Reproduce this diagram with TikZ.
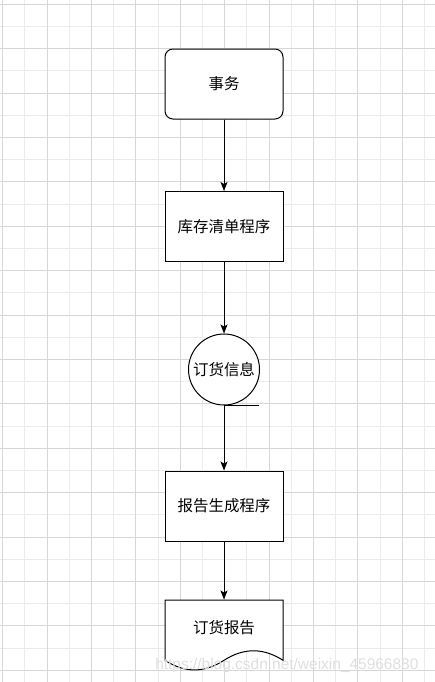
\documentclass[tikz,border=0pt]{standalone}
\usepackage{fontspec}
\newfontfamily\cjk{Noto Sans CJK SC}
\setsansfont{Liberation Sans}
\usetikzlibrary{arrows.meta}

\begin{document}
\begin{tikzpicture}[x=0.75pt, y=-0.75pt,
    flowbox/.style={draw, fill=white, line width=0.75pt, minimum width=88.5pt, minimum height=52.5pt, inner sep=0pt, font=\cjk\fontsize{11.6}{14}\selectfont},
    startbox/.style={flowbox, rounded corners=6pt},
    tapebox/.style={flowbox, circle, minimum size=53.25pt},
    docbox/.style={flowbox, draw=none, fill=none, minimum height=42pt},
    flow/.style={line width=0.75pt, -{Stealth[length=6.75pt, width=5.25pt, inset=1.5pt]}},
    gridmajor/.style={draw=black!16, line width=0.75pt},
    gridminor/.style={draw=black!8, line width=0.75pt}]
    \useasboundingbox (0,0) rectangle (435,682);

    % Draw the background grid
    \foreach \i in {1,3,...,19} \draw[gridminor] ({2.7+22.2*\i},0) -- ({2.7+22.2*\i},682);
    \foreach \j in {1,3,...,29} \draw[gridminor] (0,{4.3+22.2*\j}) -- (435,{4.3+22.2*\j});
    \foreach \i in {0,2,...,18} \draw[gridmajor] ({2.7+22.2*\i},0) -- ({2.7+22.2*\i},682);
    \foreach \j in {0,2,...,30} \draw[gridmajor] (0,{4.3+22.2*\j}) -- (435,{4.3+22.2*\j});

    % Draw the flow steps
    \node[startbox] (task) at (224, 84) {事务};
    \node[flowbox] (inventory) at (224, 226.5) {库存清单程序};
    \node[tapebox] (orderinfo) at (224, 369.5) {订货信息};
    \node[flowbox] (reportgen) at (224, 506) {报告生成程序};

    % Draw the document shape for the report
    \draw[line width=0.75pt, fill=white] (165,600) -- (283,600) -- (283,660.3)
        .. controls (263.3,647.6) and (243.7,647.6) .. (224,660.3)
        .. controls (204.3,673.1) and (184.7,673.1) .. (165,660.3) -- cycle;
    \node[docbox] (report) at (224, 628) {订货报告};

    % Tail of the sequential data store
    \draw[line width=0.75pt] (orderinfo.south) -- ++(35,0);

    % Draw all arrows
    \draw[flow] (task) -- (inventory);
    \draw[flow] (inventory) -- (orderinfo);
    \draw[flow] (orderinfo) -- (reportgen);
    \draw[flow] (reportgen) -- (report);

    % Watermark
    \node[anchor=base west, inner sep=0pt, text=black!13, font=\sffamily\fontsize{11.6}{14}\selectfont] (mark) at (155, 669) {https://blog.csdn.net/weixin\_45966880};
\end{tikzpicture}
\end{document}
